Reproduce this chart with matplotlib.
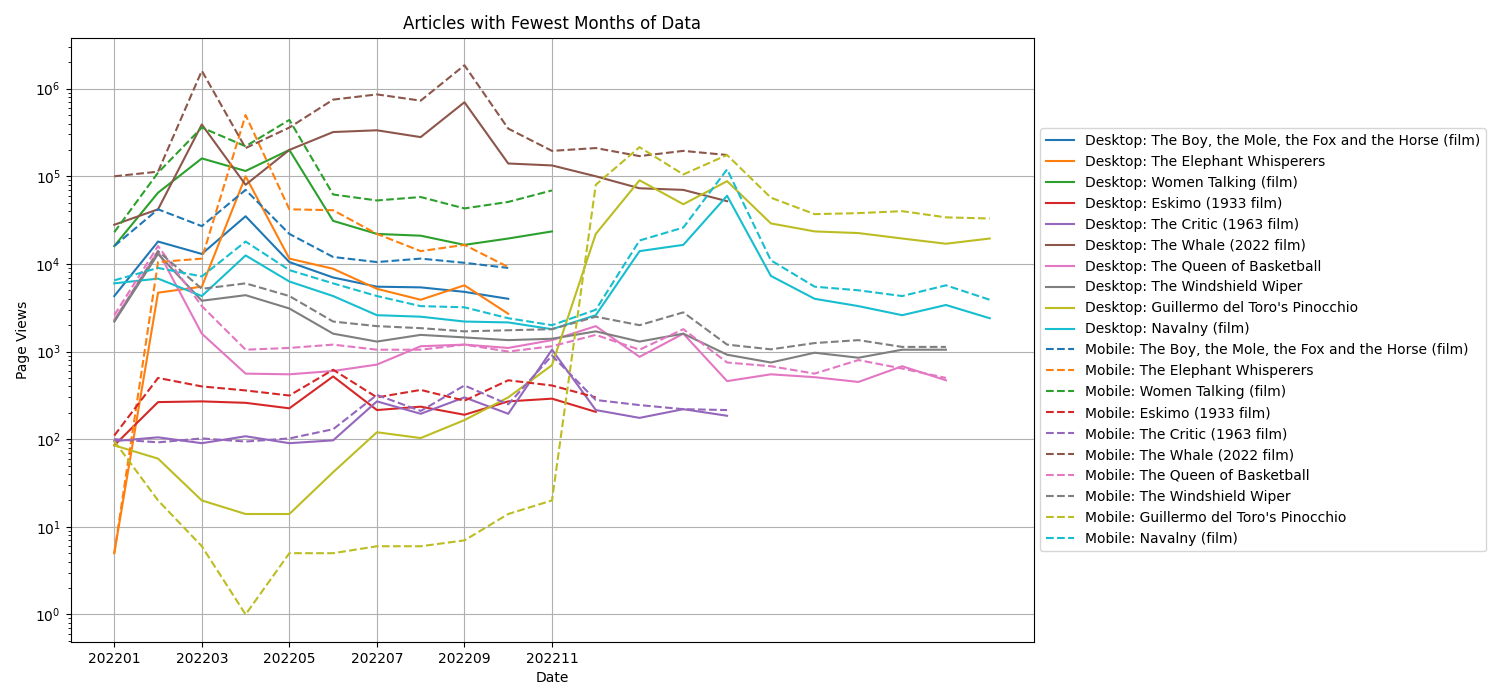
import numpy as np
import matplotlib.pyplot as plt

nan = np.nan
months = ['202201', '202202', '202203', '202204', '202205', '202206', '202207',
          '202208', '202209', '202210', '202211', '202212', '202301', '202302',
          '202303', '202304', '202305', '202306', '202307', '202308', '202309']

articles = ['The Boy, the Mole, the Fox and the Horse (film)', 'The Elephant Whisperers',
            'Women Talking (film)', 'Eskimo (1933 film)', 'The Critic (1963 film)',
            'The Whale (2022 film)', 'The Queen of Basketball', 'The Windshield Wiper',
            "Guillermo del Toro's Pinocchio", 'Navalny (film)']

desktop = [
    [4300, 18000, 13000, 35000, 10500, 7000, 5500, 5400, 4800, 4000],
    [5, 4700, 5500, 100000, 11500, 8800, 5200, 3900, 5700, 2700],
    [16000, 65000, 160000, 115000, 200000, 31000, 22000, 21000, 16500, 19500, 23500],
    [85, 265, 270, 260, 225, 520, 215, 235, 190, 270, 290, 205],
    [95, 105, 90, 108, 90, 97, 270, 195, 300, 195, 1050, 215, 175, 220, 185],
    [28000, 42000, 390000, 80000, 200000, 320000, 335000, 280000, 700000, 140000,
     133000, 100000, 73000, 70000, 52000],
    [2300, 14000, 1600, 560, 550, 600, 710, 1150, 1200, 1100, 1350, 1950, 870, 1600,
     460, 550, 510, 450, 680, 470],
    [2200, 13000, 3800, 4400, 3100, 1600, 1300, 1550, 1450, 1350, 1400, 1700, 1300,
     1600, 920, 750, 970, 850, 1050, 1050],
    [85, 60, 20, 14, 14, 42, 120, 103, 165, 300, 700, 22000, 90000, 48000, 88000,
     29000, 23500, 22500, 19500, 17000, 19500],
    [6000, 6800, 4300, 12500, 6300, 4300, 2600, 2500, 2200, 2150, 1800, 2600, 14000,
     16500, 60000, 7300, 4000, 3300, 2600, 3400, 2400],
]

mobile = [
    [16000, 42000, 27000, 70000, 22000, 12000, 10500, 11500, 10300, 9000],
    [5, 10500, 11500, 500000, 42000, 41000, 22000, 14000, 16500, 9200],
    [23000, 110000, 360000, 220000, 440000, 62000, 53000, 58000, 43000, 51000, 69000],
    [110, 500, 400, 360, 315, 620, 300, 365, 275, 470, 410, 300],
    [100, 92, 102, 94, 102, 130, 320, 210, 410, 250, 900, 280, 245, 220, 215],
    [100000, 113000, 1600000, 210000, 360000, 750000, 860000, 730000, 1850000, 350000,
     195000, 210000, 170000, 195000, 175000],
    [2600, 16000, 3300, 1050, 1100, 1200, 1050, 1050, 1200, 1000, 1150, 1550, 1050,
     1800, 750, 680, 560, 800, 640, 500],
    [2200, 14000, 5200, 6000, 4300, 2200, 1950, 1850, 1700, 1750, 1800, 2500, 2000,
     2800, 1200, 1060, 1250, 1350, 1130, 1130],
    [95, 20, 6, 1, 5, 5, 6, 6, 7, 14, 20, 80000, 215000, 105000, 175000, 57000, 37000,
     38000, 40000, 34000, 33000],
    [6500, 9000, 7200, 18000, 8500, 6000, 4300, 3300, 3200, 2400, 2000, 3000, 18500,
     26000, 120000, 11000, 5500, 5000, 4300, 5700, 3900],
]

colors = plt.rcParams['axes.prop_cycle'].by_key()['color']

fig, ax = plt.subplots(figsize=(15, 7), dpi=100)
fig.subplots_adjust(left=0.047, right=0.689, top=0.946, bottom=0.083)

for i, name in enumerate(articles):
    ax.plot(range(len(desktop[i])), desktop[i], '-', color=colors[i],
            label='Desktop: ' + name)
for i, name in enumerate(articles):
    ax.plot(range(len(mobile[i])), mobile[i], '--', color=colors[i],
            label='Mobile: ' + name)

ax.set_yscale('log')
ax.set_xticks(range(0, 12, 2))
ax.set_xticklabels(months[0:12:2])
ax.grid(True, color='#b0b0b0')
ax.set_title('Articles with Fewest Months of Data')
ax.set_xlabel('Date')
ax.set_ylabel('Page Views')
ax.legend(loc='center left', bbox_to_anchor=(1.0, 0.5))
plt.savefig('out.png')
